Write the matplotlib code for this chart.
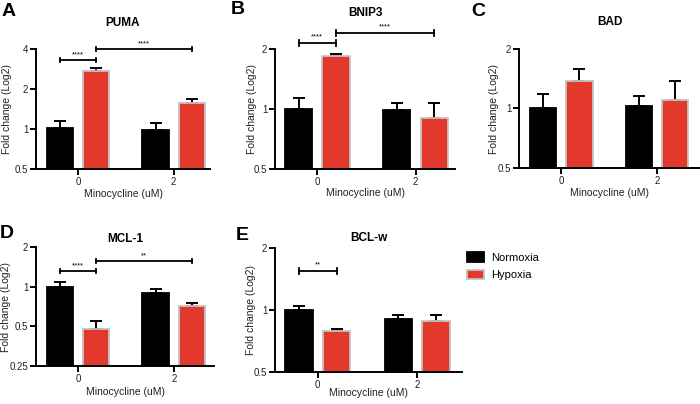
import matplotlib
matplotlib.use("Agg")
import matplotlib.pyplot as plt
from matplotlib.ticker import FixedLocator, FixedFormatter, NullLocator
from matplotlib.patches import Patch

plt.rcParams["font.family"] = ["Liberation Sans", "DejaVu Sans"]

# ======= data =======
GROUPS = ["0", "2"]
SERIES = ["Normoxia", "Hypoxia"]

PUMA_MEAN = [[1.02, 0.98], [2.73, 1.56]]
PUMA_ERR = [[1.15, 1.11], [2.86, 1.67]]

BNIP3_MEAN = [[1.00, 0.99], [1.84, 0.90]]
BNIP3_ERR = [[1.13, 1.07], [1.89, 1.075]]

BAD_MEAN = [[1.00, 1.035], [1.37, 1.11]]
BAD_ERR = [[1.185, 1.16], [1.58, 1.38]]

MCL1_MEAN = [[1.00, 0.895], [0.48, 0.71]]
MCL1_ERR = [[1.09, 0.953], [0.55, 0.75]]

BCLW_MEAN = [[1.00, 0.90], [0.79, 0.885]]
BCLW_ERR = [[1.046, 0.945], [0.81, 0.945]]

# brackets: (from (group, series), to (group, series), height, label)
PUMA_SIG = [((0, 0), (0, 1), 3.3, "****"), ((0, 1), (1, 1), 4.0, "****")]
BNIP3_SIG = [((0, 0), (0, 1), 2.14, "****"), ((0, 1), (1, 1), 2.41, "****")]
MCL1_SIG = [((0, 0), (0, 1), 1.31, "****"), ((0, 1), (1, 1), 1.56, "**")]
BCLW_SIG = [((0, 0), (0, 1), 1.55, "**")]

# ======= style =======
COLORS = ["#000000", "#e2392c"]
EDGES = ["#000000", "#c4c4c4"]
BAR_W = 0.275
OFFSET = 0.19
W, H = 700, 404


def axpos(l, r, t, b):
    return [l / W, 1 - b / H, (r - l) / W, (b - t) / H]


def panel(pos, letter, title, mean, err, ylim, yticks, sig, letter_xy, title_y, xlim,
          ylab_x, xlab_y):
    ax = fig.add_axes(axpos(*pos))
    ax.set_yscale("log", base=2)
    ax.set_ylim(*ylim)
    ax.set_xlim(*xlim)
    lo = ylim[0]
    for s in range(2):
        xs = [g + (2 * s - 1) * OFFSET for g in range(len(GROUPS))]
        hts = [m - lo for m in mean[s]]
        ax.bar(xs, hts, bottom=lo, width=BAR_W, color=COLORS[s],
               edgecolor=EDGES[s], linewidth=1.3, zorder=2)
        ax.errorbar(xs, mean[s], yerr=[[0] * len(xs), [e - m for e, m in zip(err[s], mean[s])]],
                    fmt="none", ecolor="black", elinewidth=1.4, capsize=4, capthick=1.4,
                    zorder=1, clip_on=False)
    for (g1, s1), (g2, s2), yb, lab in sig:
        x1 = g1 + (2 * s1 - 1) * OFFSET
        x2 = g2 + (2 * s2 - 1) * OFFSET
        ax.plot([x1, x2], [yb, yb], color="black", lw=1.3, clip_on=False)
        for xx in (x1, x2):
            ax.plot([xx, xx], [yb * 0.965, yb * 1.035], color="black", lw=1.3, clip_on=False)
        ax.text((x1 + x2) / 2, yb * 1.03, lab, ha="center", va="bottom", fontsize=5.5)
    ax.yaxis.set_major_locator(FixedLocator(yticks))
    ax.yaxis.set_major_formatter(FixedFormatter([("%g" % v) for v in yticks]))
    ax.yaxis.set_minor_locator(NullLocator())
    ax.set_xticks(range(len(GROUPS)))
    ax.set_xticklabels(GROUPS)
    for side in ("top", "right"):
        ax.spines[side].set_visible(False)
    for side in ("left", "bottom"):
        ax.spines[side].set_linewidth(1.4)
    ax.tick_params(axis="both", which="major", length=4, width=1.4, labelsize=7, pad=1.5,
                   color="black", labelcolor="#222222")
    cy = (pos[2] + pos[3]) / 2
    cx = (pos[0] + pos[1]) / 2
    fig.text(ylab_x / W, 1 - cy / H, "Fold change (Log2)", rotation=90, ha="center",
             va="center", fontsize=7.5, color="#222222")
    fig.text(cx / W, 1 - xlab_y / H, "Minocycline (uM)", ha="center", va="center",
             fontsize=7.5, color="#222222")
    fig.text(cx / W, 1 - title_y / H, title, ha="center", va="center", fontsize=8.5,
             fontweight="bold")
    fig.text(letter_xy[0] / W, 1 - letter_xy[1] / H, letter, ha="left", va="center",
             fontsize=14, fontweight="bold")
    return ax


fig = plt.figure(figsize=(7.0, 4.04), dpi=100)

panel((36, 210, 49, 169), "A", "PUMA", PUMA_MEAN, PUMA_ERR, (0.5, 4), [0.5, 1, 2, 4],
      PUMA_SIG, (2, 11), 23, (-0.44, 1.38), 7, 194)
panel((275, 455, 49, 169), "B", "BNIP3", BNIP3_MEAN, BNIP3_ERR, (0.5, 2), [0.5, 1, 2],
      BNIP3_SIG, (231, 10), 13, (-0.43, 1.40), 252, 193)
panel((519, 700, 49, 168), "C", "BAD", BAD_MEAN, BAD_ERR, (0.5, 2), [0.5, 1, 2],
      [], (471, 11), 22, (-0.44, 1.45), 494, 193)
panel((36, 214, 247, 366), "D", "MCL-1", MCL1_MEAN, MCL1_ERR, (0.25, 2), [0.25, 0.5, 1, 2],
      MCL1_SIG, (0, 234), 239, (-0.44, 1.42), 6, 392)
panel((275, 462, 248, 372), "E", "BCL-w", BCLW_MEAN, BCLW_ERR, (0.5, 2), [0.5, 1, 2],
      BCLW_SIG, (236, 236), 238, (-0.43, 1.45), 251, 393)

handles = [Patch(facecolor=COLORS[i], edgecolor=EDGES[i], linewidth=1.3) for i in range(2)]
fig.legend(handles, SERIES, loc="upper left", bbox_to_anchor=(463 / W, 1 - 248 / H),
           frameon=False, fontsize=8, handlelength=1.5, handleheight=0.9,
           labelspacing=0.6, handletextpad=0.6, borderaxespad=0)

fig.savefig("out.png", dpi=100)
